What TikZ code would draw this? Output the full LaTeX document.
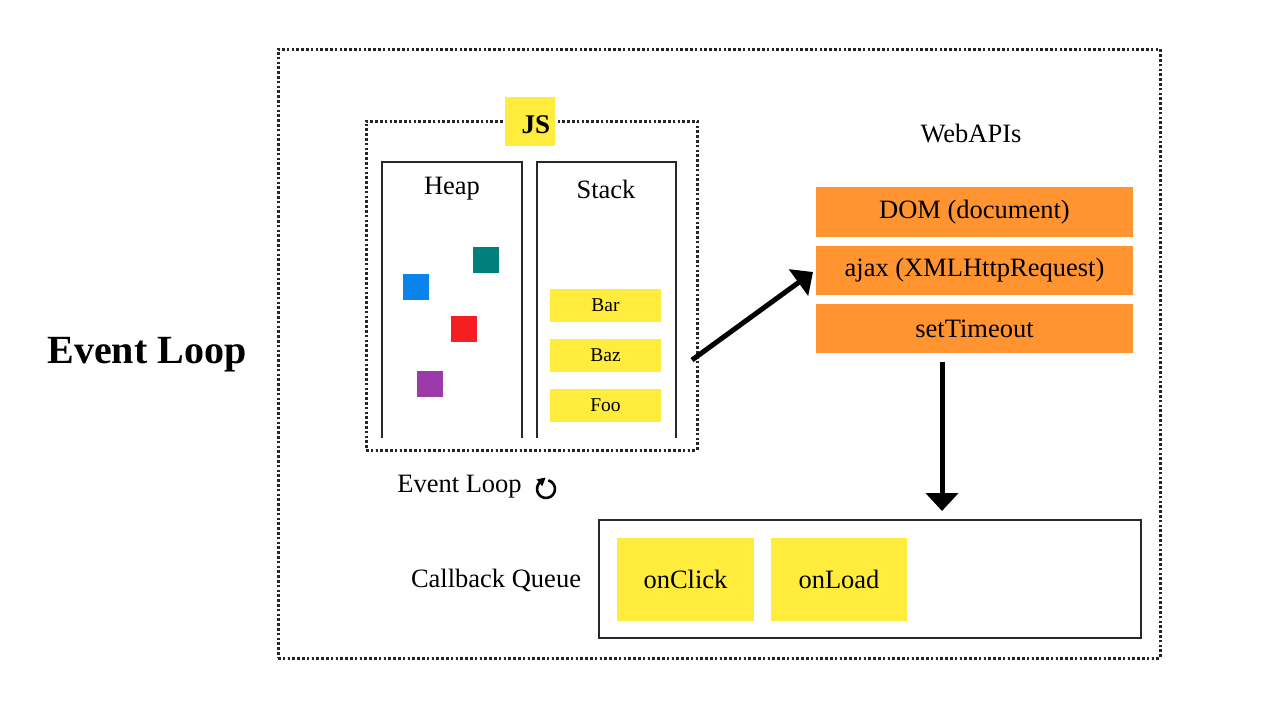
\documentclass[tikz,border=0pt]{standalone}
\usepackage{fontspec}
\setmainfont{Liberation Serif}
\usetikzlibrary{arrows.meta}
\definecolor{jsyellow}{RGB}{255,236,61}
\definecolor{apiorange}{RGB}{255,148,48}
\definecolor{sqteal}{RGB}{0,128,124}
\definecolor{sqblue}{RGB}{10,132,235}
\definecolor{sqred}{RGB}{245,30,35}
\definecolor{sqpurple}{RGB}{155,58,168}
\definecolor{framegray}{RGB}{40,40,40}
\tikzset{
  dotframe/.style={draw=black!85, line width=3pt, dash pattern=on 2.6pt off 2.2pt, rectangle, inner sep=0pt},
  colbox/.style={rectangle, inner sep=0pt, minimum width=140pt, minimum height=276pt},
  colline/.style={draw=framegray, line width=2pt},
  heapsq/.style={rectangle, inner sep=0pt, minimum size=26pt},
  stackitem/.style={rectangle, fill=jsyellow, inner sep=0pt, minimum width=111pt, minimum height=33pt, font=\fontsize{19.5}{22}\selectfont},
  apibox/.style={rectangle, fill=apiorange, inner sep=0pt, minimum width=317pt, minimum height=49pt, font=\fontsize{26.5}{30}\selectfont},
  cbitem/.style={rectangle, fill=jsyellow, inner sep=0pt, minimum height=83pt, font=\fontsize{26.5}{30}\selectfont},
  lbl/.style={inner sep=0pt, font=\fontsize{26.5}{30}\selectfont},
  bigarrow/.style={line width=5pt, -{Triangle[length=18pt,width=32pt]}},
}
\begin{document}
\begin{tikzpicture}[x=1pt,y=-1pt]
\useasboundingbox[fill=white] (0,0) rectangle (1284,710);

% title
\node[inner sep=0pt, font=\bfseries\fontsize{40}{48}\selectfont] (title) at (147,355) {Event Loop};

% outer frame
\node[dotframe, minimum width=882pt, minimum height=609pt] (outer) at (719,353.5) {};

% JS frame
\node[dotframe, minimum width=331pt, minimum height=329pt] (jsframe) at (531.5,285.5) {};
\node[rectangle, fill=jsyellow, inner sep=0pt, minimum width=50pt, minimum height=49pt] (jsbox) at (530,121.5) {};
\node[inner sep=0pt, font=\bfseries\fontsize{27}{30}\selectfont] (jslabel) at (536,125) {JS};

% heap and stack columns
\node[colbox] (heap) at (452,300) {};
\node[colbox, minimum width=139pt] (stack) at (606.5,300) {};
\draw[colline] (heap.south west) |- (heap.north east) -- (heap.south east);
\draw[colline] (stack.south west) |- (stack.north east) -- (stack.south east);
\node[lbl] (heaptext) at (452,189) {Heap};
\node[lbl] (stacktext) at (606,189) {Stack};

% heap objects
\node[heapsq, fill=sqteal] (sqa) at (486,260) {};
\node[heapsq, fill=sqblue] (sqb) at (415.5,287) {};
\node[heapsq, fill=sqred] (sqc) at (464,329) {};
\node[heapsq, fill=sqpurple] (sqd) at (430,384) {};

% stack frames
\node[stackitem] (bar) at (605.5,305.5) {Bar};
\node[stackitem] (baz) at (605.5,355.5) {Baz};
\node[stackitem] (foo) at (605.5,405.5) {Foo};

% event loop label + icon
\node[lbl] (evlabel) at (459.5,487) {Event Loop};
\coordinate (icon) at (546,489);
\begin{scope}[shift={(icon)}, x=1pt, y=1pt]
  \draw[line width=2.6pt] (75:9) arc[start angle=75, end angle=-230, radius=9];
  \fill (-9.45,9.70) -- (-0.43,11.39) -- (-3.67,2.80) -- cycle;
\end{scope}

% Web APIs
\node[lbl] (webapis) at (971,134) {WebAPIs};
\node[apibox, minimum height=50pt] (dom) at (974.5,212) {DOM (document)};
\node[apibox] (ajax) at (974.5,270.5) {ajax (XMLHttpRequest)};
\node[apibox] (settimeout) at (974.5,328.5) {setTimeout};

% callback queue
\node[lbl] (cbqtext) at (496,580) {Callback Queue};
\node[rectangle, draw=framegray, line width=2pt, minimum width=542pt, minimum height=118pt, inner sep=0pt] (cbq) at (870,579) {};
\node[cbitem, minimum width=137pt] (onclick) at (685.5,579.5) {onClick};
\node[cbitem, minimum width=136pt] (onload) at (839,579.5) {onLoad};

% arrows
\coordinate (a1s) at (692,360);
\coordinate (a1e) at (813,272);
\draw[bigarrow] (a1s) -- (a1e);
\coordinate (a2s) at (942,362);
\coordinate (a2e) at (942,511);
\draw[bigarrow] (a2s) -- (a2e);
\end{tikzpicture}
\end{document}
